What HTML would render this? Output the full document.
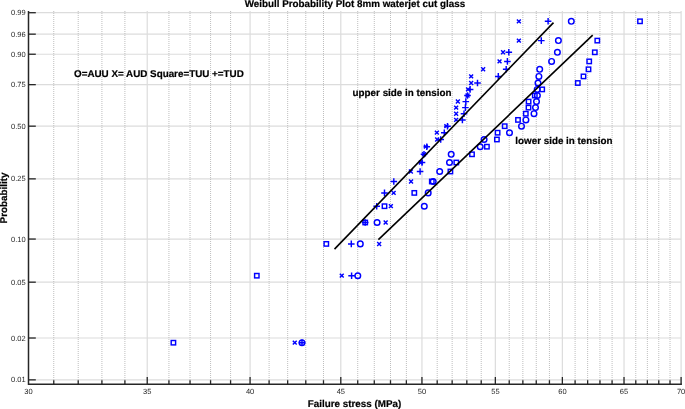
<!DOCTYPE html>
<html><head><meta charset="utf-8"><title>Weibull Probability Plot</title>
<style>
html,body{margin:0;padding:0;background:#fff;}
body{width:685px;height:409px;overflow:hidden;}
svg{display:block;text-rendering:geometricPrecision;font-family:"Liberation Sans",Arial,Helvetica,sans-serif;}
.tk{font-size:7.5px;fill:#262626;}
.b{font-weight:bold;fill:#000;stroke:#000;stroke-width:0.2;}
.m{fill:none;stroke:#0000ff;stroke-width:1.45;}
</style></head><body>
<svg width="685" height="409" viewBox="0 0 685 409">
<rect width="685" height="409" fill="#fff"/>

<g stroke="#dcdcdc" stroke-width="1.2" fill="none">
<line x1="28.5" x2="681.1" y1="379.85" y2="379.85"/>
<line x1="28.5" x2="681.1" y1="338.01" y2="338.01"/>
<line x1="28.5" x2="681.1" y1="282.18" y2="282.18"/>
<line x1="28.5" x2="681.1" y1="239.05" y2="239.05"/>
<line x1="28.5" x2="681.1" y1="178.86" y2="178.86"/>
<line x1="28.5" x2="681.1" y1="126.17" y2="126.17"/>
<line x1="28.5" x2="681.1" y1="84.64" y2="84.64"/>
<line x1="28.5" x2="681.1" y1="54.23" y2="54.23"/>
<line x1="28.5" x2="681.1" y1="34.16" y2="34.16"/>
<line x1="28.5" x2="681.1" y1="12.70" y2="12.70"/>
<line x1="147.23" x2="147.23" y1="11.0" y2="384.2"/>
<line x1="250.08" x2="250.08" y1="11.0" y2="384.2"/>
<line x1="340.79" x2="340.79" y1="11.0" y2="384.2"/>
<line x1="421.94" x2="421.94" y1="11.0" y2="384.2"/>
<line x1="495.35" x2="495.35" y1="11.0" y2="384.2"/>
<line x1="562.37" x2="562.37" y1="11.0" y2="384.2"/>
<line x1="624.02" x2="624.02" y1="11.0" y2="384.2"/>
<line x1="681.10" x2="681.10" y1="11.0" y2="384.2"/>
</g>
<g stroke="#bebebe" stroke-width="1" stroke-dasharray="1 1" fill="none">
<line x1="53.76" x2="53.76" y1="11.0" y2="384.2"/>
<line x1="78.21" x2="78.21" y1="11.0" y2="384.2"/>
<line x1="101.91" x2="101.91" y1="11.0" y2="384.2"/>
<line x1="124.90" x2="124.90" y1="11.0" y2="384.2"/>
<line x1="168.93" x2="168.93" y1="11.0" y2="384.2"/>
<line x1="190.03" x2="190.03" y1="11.0" y2="384.2"/>
<line x1="210.57" x2="210.57" y1="11.0" y2="384.2"/>
<line x1="230.58" x2="230.58" y1="11.0" y2="384.2"/>
<line x1="269.10" x2="269.10" y1="11.0" y2="384.2"/>
<line x1="287.66" x2="287.66" y1="11.0" y2="384.2"/>
<line x1="305.78" x2="305.78" y1="11.0" y2="384.2"/>
<line x1="323.49" x2="323.49" y1="11.0" y2="384.2"/>
<line x1="357.72" x2="357.72" y1="11.0" y2="384.2"/>
<line x1="374.29" x2="374.29" y1="11.0" y2="384.2"/>
<line x1="390.50" x2="390.50" y1="11.0" y2="384.2"/>
<line x1="406.38" x2="406.38" y1="11.0" y2="384.2"/>
<line x1="437.20" x2="437.20" y1="11.0" y2="384.2"/>
<line x1="452.15" x2="452.15" y1="11.0" y2="384.2"/>
<line x1="466.82" x2="466.82" y1="11.0" y2="384.2"/>
<line x1="481.22" x2="481.22" y1="11.0" y2="384.2"/>
<line x1="509.23" x2="509.23" y1="11.0" y2="384.2"/>
<line x1="522.86" x2="522.86" y1="11.0" y2="384.2"/>
<line x1="536.26" x2="536.26" y1="11.0" y2="384.2"/>
<line x1="549.43" x2="549.43" y1="11.0" y2="384.2"/>
<line x1="575.10" x2="575.10" y1="11.0" y2="384.2"/>
<line x1="587.63" x2="587.63" y1="11.0" y2="384.2"/>
<line x1="599.95" x2="599.95" y1="11.0" y2="384.2"/>
<line x1="612.08" x2="612.08" y1="11.0" y2="384.2"/>
<line x1="635.78" x2="635.78" y1="11.0" y2="384.2"/>
<line x1="647.36" x2="647.36" y1="11.0" y2="384.2"/>
<line x1="658.77" x2="658.77" y1="11.0" y2="384.2"/>
<line x1="670.02" x2="670.02" y1="11.0" y2="384.2"/>
</g>
<g stroke="#262626" stroke-width="1.5" fill="none" stroke-linecap="butt">
<path d="M28.5 11.0V384.2H681.9" stroke-linejoin="miter"/>
</g><g stroke="#262626" stroke-width="1.3" fill="none">
<line x1="28.5" x2="35.8" y1="379.85" y2="379.85"/>
<line x1="28.5" x2="35.8" y1="338.01" y2="338.01"/>
<line x1="28.5" x2="35.8" y1="282.18" y2="282.18"/>
<line x1="28.5" x2="35.8" y1="239.05" y2="239.05"/>
<line x1="28.5" x2="35.8" y1="178.86" y2="178.86"/>
<line x1="28.5" x2="35.8" y1="126.17" y2="126.17"/>
<line x1="28.5" x2="35.8" y1="84.64" y2="84.64"/>
<line x1="28.5" x2="35.8" y1="54.23" y2="54.23"/>
<line x1="28.5" x2="35.8" y1="34.16" y2="34.16"/>
<line x1="28.5" x2="35.8" y1="12.70" y2="12.70"/>
<line x1="53.76" x2="53.76" y1="384.2" y2="380.2"/>
<line x1="78.21" x2="78.21" y1="384.2" y2="380.2"/>
<line x1="101.91" x2="101.91" y1="384.2" y2="380.2"/>
<line x1="124.90" x2="124.90" y1="384.2" y2="380.2"/>
<line x1="147.23" x2="147.23" y1="384.2" y2="377.0"/>
<line x1="168.93" x2="168.93" y1="384.2" y2="380.2"/>
<line x1="190.03" x2="190.03" y1="384.2" y2="380.2"/>
<line x1="210.57" x2="210.57" y1="384.2" y2="380.2"/>
<line x1="230.58" x2="230.58" y1="384.2" y2="380.2"/>
<line x1="250.08" x2="250.08" y1="384.2" y2="377.0"/>
<line x1="269.10" x2="269.10" y1="384.2" y2="380.2"/>
<line x1="287.66" x2="287.66" y1="384.2" y2="380.2"/>
<line x1="305.78" x2="305.78" y1="384.2" y2="380.2"/>
<line x1="323.49" x2="323.49" y1="384.2" y2="380.2"/>
<line x1="340.79" x2="340.79" y1="384.2" y2="377.0"/>
<line x1="357.72" x2="357.72" y1="384.2" y2="380.2"/>
<line x1="374.29" x2="374.29" y1="384.2" y2="380.2"/>
<line x1="390.50" x2="390.50" y1="384.2" y2="380.2"/>
<line x1="406.38" x2="406.38" y1="384.2" y2="380.2"/>
<line x1="421.94" x2="421.94" y1="384.2" y2="377.0"/>
<line x1="437.20" x2="437.20" y1="384.2" y2="380.2"/>
<line x1="452.15" x2="452.15" y1="384.2" y2="380.2"/>
<line x1="466.82" x2="466.82" y1="384.2" y2="380.2"/>
<line x1="481.22" x2="481.22" y1="384.2" y2="380.2"/>
<line x1="495.35" x2="495.35" y1="384.2" y2="377.0"/>
<line x1="509.23" x2="509.23" y1="384.2" y2="380.2"/>
<line x1="522.86" x2="522.86" y1="384.2" y2="380.2"/>
<line x1="536.26" x2="536.26" y1="384.2" y2="380.2"/>
<line x1="549.43" x2="549.43" y1="384.2" y2="380.2"/>
<line x1="562.37" x2="562.37" y1="384.2" y2="377.0"/>
<line x1="575.10" x2="575.10" y1="384.2" y2="380.2"/>
<line x1="587.63" x2="587.63" y1="384.2" y2="380.2"/>
<line x1="599.95" x2="599.95" y1="384.2" y2="380.2"/>
<line x1="612.08" x2="612.08" y1="384.2" y2="380.2"/>
<line x1="624.02" x2="624.02" y1="384.2" y2="377.0"/>
<line x1="635.78" x2="635.78" y1="384.2" y2="380.2"/>
<line x1="647.36" x2="647.36" y1="384.2" y2="380.2"/>
<line x1="658.77" x2="658.77" y1="384.2" y2="380.2"/>
<line x1="670.02" x2="670.02" y1="384.2" y2="380.2"/>
<line x1="681.10" x2="681.10" y1="384.2" y2="377.0"/>
</g>
<text class="tk" x="25.6" y="382.4" text-anchor="end">0.01</text>
<text class="tk" x="25.6" y="340.5" text-anchor="end">0.02</text>
<text class="tk" x="25.6" y="284.7" text-anchor="end">0.05</text>
<text class="tk" x="25.6" y="241.6" text-anchor="end">0.10</text>
<text class="tk" x="25.6" y="181.4" text-anchor="end">0.25</text>
<text class="tk" x="25.6" y="128.7" text-anchor="end">0.50</text>
<text class="tk" x="25.6" y="87.1" text-anchor="end">0.75</text>
<text class="tk" x="25.6" y="56.7" text-anchor="end">0.90</text>
<text class="tk" x="25.6" y="36.7" text-anchor="end">0.96</text>
<text class="tk" x="25.6" y="15.2" text-anchor="end">0.99</text>
<text class="tk" x="28.5" y="394.1" text-anchor="middle">30</text>
<text class="tk" x="147.2" y="394.1" text-anchor="middle">35</text>
<text class="tk" x="250.1" y="394.1" text-anchor="middle">40</text>
<text class="tk" x="340.8" y="394.1" text-anchor="middle">45</text>
<text class="tk" x="421.9" y="394.1" text-anchor="middle">50</text>
<text class="tk" x="495.4" y="394.1" text-anchor="middle">55</text>
<text class="tk" x="562.4" y="394.1" text-anchor="middle">60</text>
<text class="tk" x="624.0" y="394.1" text-anchor="middle">65</text>
<text class="tk" x="681.1" y="394.1" text-anchor="middle">70</text>
<text class="b" id="title" x="354.9" y="7.1" font-size="9.84" text-anchor="middle">Weibull Probability Plot 8mm waterjet cut glass</text>
<text class="b" id="xl" x="354.5" y="407" font-size="9.84" text-anchor="middle">Failure stress (MPa)</text>
<text class="b" id="yl" transform="translate(7.3,198) rotate(-90)" font-size="9.84" text-anchor="middle">Probability</text>
<text class="b" id="leg" x="74" y="77.2" font-size="9.84">O=AUU X= AUD Square=TUU +=TUD</text>
<text class="b" id="up" x="352.6" y="96.4" font-size="9.84">upper side in tension</text>
<text class="b" id="lo" x="515.3" y="144.1" font-size="9.84">lower side in tension</text>
<g class="m">
<path d="M292.8 340.7l3.9 3.9m0 -3.9l-3.9 3.9"/>
<path d="M298.7 342.7h6.6m-3.3 -3.3v6.6"/>
<circle cx="302.0" cy="342.7" r="2.8"/>
<rect x="171.2" y="340.5" width="4.4" height="4.4"/>
<path d="M339.8 273.7l3.9 3.9m0 -3.9l-3.9 3.9"/>
<path d="M348.3 275.7h6.6m-3.3 -3.3v6.6"/>
<circle cx="357.8" cy="275.7" r="2.8"/>
<rect x="254.6" y="273.5" width="4.4" height="4.4"/>
<path d="M377.2 242.0l3.9 3.9m0 -3.9l-3.9 3.9"/>
<path d="M348.0 243.9h6.6m-3.3 -3.3v6.6"/>
<circle cx="360.3" cy="243.9" r="2.8"/>
<rect x="324.1" y="241.7" width="4.4" height="4.4"/>
<path d="M383.7 220.6l3.9 3.9m0 -3.9l-3.9 3.9"/>
<path d="M361.9 222.5h6.6m-3.3 -3.3v6.6"/>
<circle cx="377.1" cy="222.5" r="2.8"/>
<rect x="363.0" y="220.3" width="4.4" height="4.4"/>
<path d="M388.9 204.2l3.9 3.9m0 -3.9l-3.9 3.9"/>
<path d="M373.4 206.2h6.6m-3.3 -3.3v6.6"/>
<circle cx="424.3" cy="206.2" r="2.8"/>
<rect x="382.3" y="204.0" width="4.4" height="4.4"/>
<path d="M391.7 190.9l3.9 3.9m0 -3.9l-3.9 3.9"/>
<path d="M381.2 192.9h6.6m-3.3 -3.3v6.6"/>
<circle cx="428.2" cy="192.9" r="2.8"/>
<rect x="412.1" y="190.7" width="4.4" height="4.4"/>
<path d="M409.1 179.5l3.9 3.9m0 -3.9l-3.9 3.9"/>
<path d="M390.5 181.5h6.6m-3.3 -3.3v6.6"/>
<circle cx="433.2" cy="181.5" r="2.8"/>
<rect x="429.6" y="179.3" width="4.4" height="4.4"/>
<path d="M408.9 169.5l3.9 3.9m0 -3.9l-3.9 3.9"/>
<path d="M416.8 171.5h6.6m-3.3 -3.3v6.6"/>
<circle cx="439.7" cy="171.5" r="2.8"/>
<rect x="448.2" y="169.3" width="4.4" height="4.4"/>
<path d="M418.9 160.5l3.9 3.9m0 -3.9l-3.9 3.9"/>
<path d="M418.7 162.5h6.6m-3.3 -3.3v6.6"/>
<circle cx="449.5" cy="162.5" r="2.8"/>
<rect x="454.1" y="160.3" width="4.4" height="4.4"/>
<path d="M422.1 152.3l3.9 3.9m0 -3.9l-3.9 3.9"/>
<path d="M420.7 154.3h6.6m-3.3 -3.3v6.6"/>
<circle cx="451.2" cy="154.3" r="2.8"/>
<rect x="469.8" y="152.1" width="4.4" height="4.4"/>
<path d="M423.9 144.7l3.9 3.9m0 -3.9l-3.9 3.9"/>
<path d="M423.5 146.7h6.6m-3.3 -3.3v6.6"/>
<circle cx="480.2" cy="146.7" r="2.8"/>
<rect x="484.7" y="144.5" width="4.4" height="4.4"/>
<path d="M435.2 137.5l3.9 3.9m0 -3.9l-3.9 3.9"/>
<path d="M437.4 139.5h6.6m-3.3 -3.3v6.6"/>
<circle cx="484.1" cy="139.5" r="2.8"/>
<rect x="494.7" y="137.3" width="4.4" height="4.4"/>
<path d="M434.9 130.7l3.9 3.9m0 -3.9l-3.9 3.9"/>
<path d="M441.0 132.7h6.6m-3.3 -3.3v6.6"/>
<circle cx="509.5" cy="132.7" r="2.8"/>
<rect x="495.4" y="130.5" width="4.4" height="4.4"/>
<path d="M444.4 124.2l3.9 3.9m0 -3.9l-3.9 3.9"/>
<path d="M444.2 126.2h6.6m-3.3 -3.3v6.6"/>
<circle cx="521.5" cy="126.2" r="2.8"/>
<rect x="502.5" y="124.0" width="4.4" height="4.4"/>
<path d="M454.2 117.9l3.9 3.9m0 -3.9l-3.9 3.9"/>
<path d="M459.1 119.9h6.6m-3.3 -3.3v6.6"/>
<circle cx="525.9" cy="119.9" r="2.8"/>
<rect x="515.8" y="117.7" width="4.4" height="4.4"/>
<path d="M454.2 111.8l3.9 3.9m0 -3.9l-3.9 3.9"/>
<path d="M460.7 113.7h6.6m-3.3 -3.3v6.6"/>
<circle cx="534.0" cy="113.7" r="2.8"/>
<rect x="523.6" y="111.5" width="4.4" height="4.4"/>
<path d="M454.2 105.7l3.9 3.9m0 -3.9l-3.9 3.9"/>
<path d="M462.1 107.6h6.6m-3.3 -3.3v6.6"/>
<circle cx="535.5" cy="107.6" r="2.8"/>
<rect x="526.3" y="105.4" width="4.4" height="4.4"/>
<path d="M455.9 99.6l3.9 3.9m0 -3.9l-3.9 3.9"/>
<path d="M462.5 101.6h6.6m-3.3 -3.3v6.6"/>
<circle cx="536.5" cy="101.6" r="2.8"/>
<rect x="526.4" y="99.4" width="4.4" height="4.4"/>
<path d="M465.6 93.6l3.9 3.9m0 -3.9l-3.9 3.9"/>
<path d="M464.2 95.5h6.6m-3.3 -3.3v6.6"/>
<circle cx="537.4" cy="95.5" r="2.8"/>
<rect x="532.6" y="93.3" width="4.4" height="4.4"/>
<path d="M466.1 87.4l3.9 3.9m0 -3.9l-3.9 3.9"/>
<path d="M466.8 89.4h6.6m-3.3 -3.3v6.6"/>
<circle cx="537.2" cy="89.4" r="2.8"/>
<rect x="540.0" y="87.2" width="4.4" height="4.4"/>
<path d="M469.2 81.1l3.9 3.9m0 -3.9l-3.9 3.9"/>
<path d="M474.2 83.0h6.6m-3.3 -3.3v6.6"/>
<circle cx="538.0" cy="83.0" r="2.8"/>
<rect x="575.6" y="80.8" width="4.4" height="4.4"/>
<path d="M469.2 74.4l3.9 3.9m0 -3.9l-3.9 3.9"/>
<path d="M495.0 76.4h6.6m-3.3 -3.3v6.6"/>
<circle cx="538.9" cy="76.4" r="2.8"/>
<rect x="581.3" y="74.2" width="4.4" height="4.4"/>
<path d="M481.2 67.3l3.9 3.9m0 -3.9l-3.9 3.9"/>
<path d="M502.9 69.3h6.6m-3.3 -3.3v6.6"/>
<circle cx="539.7" cy="69.3" r="2.8"/>
<rect x="586.3" y="67.1" width="4.4" height="4.4"/>
<path d="M497.6 59.4l3.9 3.9m0 -3.9l-3.9 3.9"/>
<path d="M504.1 61.4h6.6m-3.3 -3.3v6.6"/>
<circle cx="551.6" cy="61.4" r="2.8"/>
<rect x="587.0" y="59.2" width="4.4" height="4.4"/>
<path d="M501.1 50.3l3.9 3.9m0 -3.9l-3.9 3.9"/>
<path d="M505.5 52.3h6.6m-3.3 -3.3v6.6"/>
<circle cx="557.4" cy="52.3" r="2.8"/>
<rect x="592.6" y="50.1" width="4.4" height="4.4"/>
<path d="M516.9 38.7l3.9 3.9m0 -3.9l-3.9 3.9"/>
<path d="M538.0 40.6h6.6m-3.3 -3.3v6.6"/>
<circle cx="558.4" cy="40.6" r="2.8"/>
<rect x="595.1" y="38.4" width="4.4" height="4.4"/>
<path d="M516.9 19.4l3.9 3.9m0 -3.9l-3.9 3.9"/>
<path d="M544.8 21.3h6.6m-3.3 -3.3v6.6"/>
<circle cx="571.3" cy="21.3" r="2.8"/>
<rect x="637.8" y="19.1" width="4.4" height="4.4"/>
</g>
<g stroke="#000" stroke-width="1.6" fill="none">
<line x1="334.5" y1="249.1" x2="553.5" y2="22.6"/>
<line x1="378.4" y1="239.7" x2="592.7" y2="35.1"/>
</g>
</svg></body></html>
